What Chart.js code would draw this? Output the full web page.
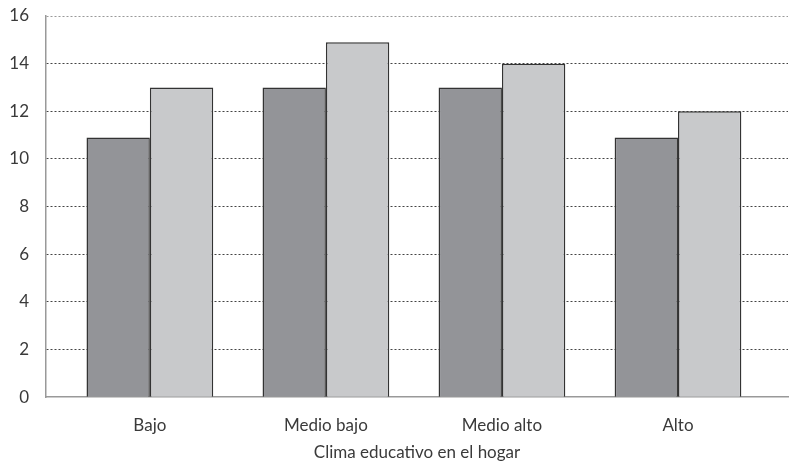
<!DOCTYPE html>
<html>
<head>
<meta charset="utf-8">
<script src="https://cdn.jsdelivr.net/npm/chart.js@4/dist/chart.umd.min.js"></script>
<style>
  html, body { margin:0; padding:0; background:#fff; }
  #wrap { width:790px; height:467px; position:relative; }
</style>
</head>
<body>
<div id="wrap"><canvas id="chart"></canvas></div>
<script>
// Data
const categories = ['Bajo', 'Medio bajo', 'Medio alto', 'Alto'];
const serieOscura = [10.9, 13.0, 13.0, 10.9];
const serieClara = [13.0, 14.9, 14.0, 12.0];
const yTicks = [0, 2, 4, 6, 8, 10, 12, 14, 16];
const xTitle = 'Clima educativo en el hogar';

const txt = '#3a3a3a';
const font = {family:'Lato, "Open Sans", sans-serif', size:17};

new Chart(document.getElementById('chart').getContext('2d'), {
  type: 'bar',
  data: {
    labels: categories,
    datasets: [
      {data: serieOscura, backgroundColor:'#939498', borderColor:'#333', borderWidth:1.5},
      {data: serieClara, backgroundColor:'#c8c9cb', borderColor:'#333', borderWidth:1.5}
    ]
  },
  options: {
    responsive: true,
    maintainAspectRatio: false,
    animation: false,
    layout: {padding:{top:16, right:2, bottom:4, left:0}},
    plugins: {legend:{display:false}, tooltip:{enabled:false}},
    datasets: {bar: {categoryPercentage:0.72, barPercentage:1.0}},
    scales: {
      x: {
        offset: false,
        grid: {display:false, drawTicks:false},
        border: {display:true, color:'#999', width:1.5},
        ticks: {color:txt, font:font, padding:18},
        title: {display:true, text:xTitle, color:txt, font:font, padding:{top:-11, bottom:0}},
        // categories sit a bit inside the plot (first centre ~104px from the axis)
        afterBuildTicks: s => { s._startValue = -0.59; s._valueRange = 4.215; }
      },
      y: {
        min: 0, max: 16,
        afterBuildTicks: s => { s.ticks = yTicks.map(v => ({value:v})); },
        afterFit: s => { s.width = 46; s.paddingTop = 0; s.paddingBottom = 0; },
        grid: {
          color: c => {
            if (!c.tick) return '#444';
            if (c.tick.value === 0) return 'rgba(0,0,0,0)';
            return c.tick.value === 16 ? '#999' : '#444';
          },
          lineWidth: 1, drawTicks: false
        },
        border: {display:true, color:'#999', width:1.5, dash:[2,2]},
        ticks: {color:txt, font:font, padding:17}
      }
    }
  }
});
</script>
</body>
</html>
